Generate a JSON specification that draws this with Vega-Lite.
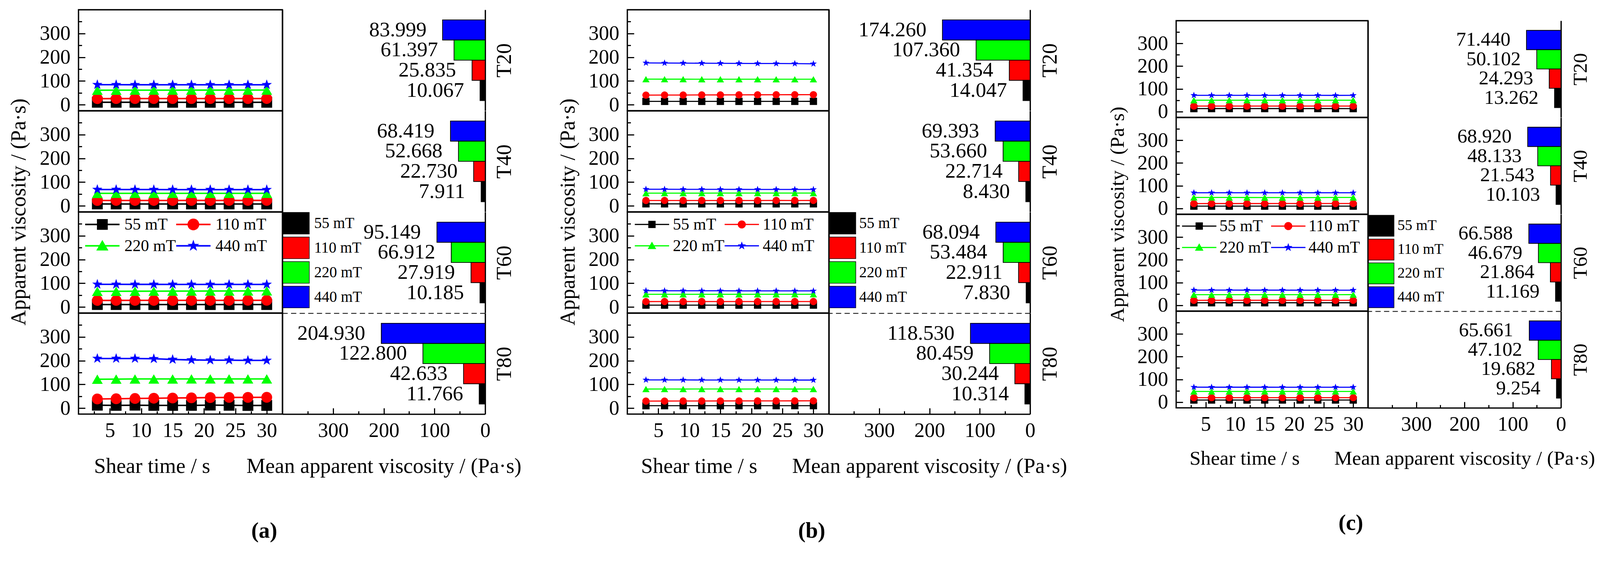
{
  "$schema": "https://vega.github.io/schema/vega-lite/v6.json",
  "description": "Apparent viscosity vs shear time and mean apparent viscosity, panels a-c",
  "background": "white",
  "padding": {"left": 18, "top": 23, "right": 0, "bottom": 0},
  "bounds": "flush",
  "spacing": 1405,
  "resolve": {"scale": {"color": "independent", "fill": "independent", "shape": "independent", "stroke": "independent"}, "legend": {"color": "independent", "fill": "independent", "shape": "independent", "stroke": "independent"}},
  "datasets": {
    "bars": [
      {"p": "a", "T": "T20", "f": "440 mT", "v": 83.999}, {"p": "a", "T": "T20", "f": "220 mT", "v": 61.397}, {"p": "a", "T": "T20", "f": "110 mT", "v": 25.835}, {"p": "a", "T": "T20", "f": "55 mT", "v": 10.067},
      {"p": "a", "T": "T40", "f": "440 mT", "v": 68.419}, {"p": "a", "T": "T40", "f": "220 mT", "v": 52.668}, {"p": "a", "T": "T40", "f": "110 mT", "v": 22.730}, {"p": "a", "T": "T40", "f": "55 mT", "v": 7.911},
      {"p": "a", "T": "T60", "f": "440 mT", "v": 95.149}, {"p": "a", "T": "T60", "f": "220 mT", "v": 66.912}, {"p": "a", "T": "T60", "f": "110 mT", "v": 27.919}, {"p": "a", "T": "T60", "f": "55 mT", "v": 10.185},
      {"p": "a", "T": "T80", "f": "440 mT", "v": 204.930}, {"p": "a", "T": "T80", "f": "220 mT", "v": 122.800}, {"p": "a", "T": "T80", "f": "110 mT", "v": 42.633}, {"p": "a", "T": "T80", "f": "55 mT", "v": 11.766},
      {"p": "b", "T": "T20", "f": "440 mT", "v": 174.260}, {"p": "b", "T": "T20", "f": "220 mT", "v": 107.360}, {"p": "b", "T": "T20", "f": "110 mT", "v": 41.354}, {"p": "b", "T": "T20", "f": "55 mT", "v": 14.047},
      {"p": "b", "T": "T40", "f": "440 mT", "v": 69.393}, {"p": "b", "T": "T40", "f": "220 mT", "v": 53.660}, {"p": "b", "T": "T40", "f": "110 mT", "v": 22.714}, {"p": "b", "T": "T40", "f": "55 mT", "v": 8.430},
      {"p": "b", "T": "T60", "f": "440 mT", "v": 68.094}, {"p": "b", "T": "T60", "f": "220 mT", "v": 53.484}, {"p": "b", "T": "T60", "f": "110 mT", "v": 22.911}, {"p": "b", "T": "T60", "f": "55 mT", "v": 7.830},
      {"p": "b", "T": "T80", "f": "440 mT", "v": 118.530}, {"p": "b", "T": "T80", "f": "220 mT", "v": 80.459}, {"p": "b", "T": "T80", "f": "110 mT", "v": 30.244}, {"p": "b", "T": "T80", "f": "55 mT", "v": 10.314},
      {"p": "c", "T": "T20", "f": "440 mT", "v": 71.440}, {"p": "c", "T": "T20", "f": "220 mT", "v": 50.102}, {"p": "c", "T": "T20", "f": "110 mT", "v": 24.293}, {"p": "c", "T": "T20", "f": "55 mT", "v": 13.262},
      {"p": "c", "T": "T40", "f": "440 mT", "v": 68.920}, {"p": "c", "T": "T40", "f": "220 mT", "v": 48.133}, {"p": "c", "T": "T40", "f": "110 mT", "v": 21.543}, {"p": "c", "T": "T40", "f": "55 mT", "v": 10.103},
      {"p": "c", "T": "T60", "f": "440 mT", "v": 66.588}, {"p": "c", "T": "T60", "f": "220 mT", "v": 46.679}, {"p": "c", "T": "T60", "f": "110 mT", "v": 21.864}, {"p": "c", "T": "T60", "f": "55 mT", "v": 11.169},
      {"p": "c", "T": "T80", "f": "440 mT", "v": 65.661}, {"p": "c", "T": "T80", "f": "220 mT", "v": 47.102}, {"p": "c", "T": "T80", "f": "110 mT", "v": 19.682}, {"p": "c", "T": "T80", "f": "55 mT", "v": 9.254}
    ],
    "lines": [
      {"p":"a","T":"T20","f":"55 mT","t":3,"v":10.2},{"p":"a","T":"T20","f":"55 mT","t":6,"v":10.1},{"p":"a","T":"T20","f":"55 mT","t":9,"v":10.1},{"p":"a","T":"T20","f":"55 mT","t":12,"v":10.0},{"p":"a","T":"T20","f":"55 mT","t":15,"v":10.1},{"p":"a","T":"T20","f":"55 mT","t":18,"v":10.0},{"p":"a","T":"T20","f":"55 mT","t":21,"v":10.0},{"p":"a","T":"T20","f":"55 mT","t":24,"v":10.1},{"p":"a","T":"T20","f":"55 mT","t":27,"v":10.0},{"p":"a","T":"T20","f":"55 mT","t":30,"v":10.1},
      {"p":"a","T":"T20","f":"110 mT","t":3,"v":25.6},{"p":"a","T":"T20","f":"110 mT","t":6,"v":25.7},{"p":"a","T":"T20","f":"110 mT","t":9,"v":25.8},{"p":"a","T":"T20","f":"110 mT","t":12,"v":25.8},{"p":"a","T":"T20","f":"110 mT","t":15,"v":25.9},{"p":"a","T":"T20","f":"110 mT","t":18,"v":25.8},{"p":"a","T":"T20","f":"110 mT","t":21,"v":25.9},{"p":"a","T":"T20","f":"110 mT","t":24,"v":25.9},{"p":"a","T":"T20","f":"110 mT","t":27,"v":25.9},{"p":"a","T":"T20","f":"110 mT","t":30,"v":26.0},
      {"p":"a","T":"T20","f":"220 mT","t":3,"v":61.0},{"p":"a","T":"T20","f":"220 mT","t":6,"v":61.2},{"p":"a","T":"T20","f":"220 mT","t":9,"v":61.3},{"p":"a","T":"T20","f":"220 mT","t":12,"v":61.4},{"p":"a","T":"T20","f":"220 mT","t":15,"v":61.4},{"p":"a","T":"T20","f":"220 mT","t":18,"v":61.5},{"p":"a","T":"T20","f":"220 mT","t":21,"v":61.5},{"p":"a","T":"T20","f":"220 mT","t":24,"v":61.5},{"p":"a","T":"T20","f":"220 mT","t":27,"v":61.6},{"p":"a","T":"T20","f":"220 mT","t":30,"v":61.6},
      {"p":"a","T":"T20","f":"440 mT","t":3,"v":84.3},{"p":"a","T":"T20","f":"440 mT","t":6,"v":84.2},{"p":"a","T":"T20","f":"440 mT","t":9,"v":84.1},{"p":"a","T":"T20","f":"440 mT","t":12,"v":84.0},{"p":"a","T":"T20","f":"440 mT","t":15,"v":84.0},{"p":"a","T":"T20","f":"440 mT","t":18,"v":83.9},{"p":"a","T":"T20","f":"440 mT","t":21,"v":83.9},{"p":"a","T":"T20","f":"440 mT","t":24,"v":83.8},{"p":"a","T":"T20","f":"440 mT","t":27,"v":83.8},{"p":"a","T":"T20","f":"440 mT","t":30,"v":84.0},
      {"p":"a","T":"T40","f":"55 mT","t":3,"v":8.0},{"p":"a","T":"T40","f":"55 mT","t":6,"v":7.9},{"p":"a","T":"T40","f":"55 mT","t":9,"v":7.9},{"p":"a","T":"T40","f":"55 mT","t":12,"v":7.9},{"p":"a","T":"T40","f":"55 mT","t":15,"v":7.9},{"p":"a","T":"T40","f":"55 mT","t":18,"v":7.9},{"p":"a","T":"T40","f":"55 mT","t":21,"v":7.9},{"p":"a","T":"T40","f":"55 mT","t":24,"v":7.9},{"p":"a","T":"T40","f":"55 mT","t":27,"v":7.9},{"p":"a","T":"T40","f":"55 mT","t":30,"v":7.9},
      {"p":"a","T":"T40","f":"110 mT","t":3,"v":22.6},{"p":"a","T":"T40","f":"110 mT","t":6,"v":22.7},{"p":"a","T":"T40","f":"110 mT","t":9,"v":22.7},{"p":"a","T":"T40","f":"110 mT","t":12,"v":22.7},{"p":"a","T":"T40","f":"110 mT","t":15,"v":22.7},{"p":"a","T":"T40","f":"110 mT","t":18,"v":22.8},{"p":"a","T":"T40","f":"110 mT","t":21,"v":22.7},{"p":"a","T":"T40","f":"110 mT","t":24,"v":22.8},{"p":"a","T":"T40","f":"110 mT","t":27,"v":22.8},{"p":"a","T":"T40","f":"110 mT","t":30,"v":22.8},
      {"p":"a","T":"T40","f":"220 mT","t":3,"v":52.5},{"p":"a","T":"T40","f":"220 mT","t":6,"v":52.6},{"p":"a","T":"T40","f":"220 mT","t":9,"v":52.6},{"p":"a","T":"T40","f":"220 mT","t":12,"v":52.7},{"p":"a","T":"T40","f":"220 mT","t":15,"v":52.7},{"p":"a","T":"T40","f":"220 mT","t":18,"v":52.7},{"p":"a","T":"T40","f":"220 mT","t":21,"v":52.7},{"p":"a","T":"T40","f":"220 mT","t":24,"v":52.7},{"p":"a","T":"T40","f":"220 mT","t":27,"v":52.7},{"p":"a","T":"T40","f":"220 mT","t":30,"v":52.8},
      {"p":"a","T":"T40","f":"440 mT","t":3,"v":68.8},{"p":"a","T":"T40","f":"440 mT","t":6,"v":68.7},{"p":"a","T":"T40","f":"440 mT","t":9,"v":68.6},{"p":"a","T":"T40","f":"440 mT","t":12,"v":68.5},{"p":"a","T":"T40","f":"440 mT","t":15,"v":68.4},{"p":"a","T":"T40","f":"440 mT","t":18,"v":68.3},{"p":"a","T":"T40","f":"440 mT","t":21,"v":68.3},{"p":"a","T":"T40","f":"440 mT","t":24,"v":68.2},{"p":"a","T":"T40","f":"440 mT","t":27,"v":68.2},{"p":"a","T":"T40","f":"440 mT","t":30,"v":68.2},
      {"p":"a","T":"T60","f":"55 mT","t":3,"v":10.3},{"p":"a","T":"T60","f":"55 mT","t":6,"v":10.2},{"p":"a","T":"T60","f":"55 mT","t":9,"v":10.2},{"p":"a","T":"T60","f":"55 mT","t":12,"v":10.1},{"p":"a","T":"T60","f":"55 mT","t":15,"v":10.2},{"p":"a","T":"T60","f":"55 mT","t":18,"v":10.2},{"p":"a","T":"T60","f":"55 mT","t":21,"v":10.1},{"p":"a","T":"T60","f":"55 mT","t":24,"v":10.2},{"p":"a","T":"T60","f":"55 mT","t":27,"v":10.2},{"p":"a","T":"T60","f":"55 mT","t":30,"v":10.2},
      {"p":"a","T":"T60","f":"110 mT","t":3,"v":27.6},{"p":"a","T":"T60","f":"110 mT","t":6,"v":27.7},{"p":"a","T":"T60","f":"110 mT","t":9,"v":27.8},{"p":"a","T":"T60","f":"110 mT","t":12,"v":27.9},{"p":"a","T":"T60","f":"110 mT","t":15,"v":27.9},{"p":"a","T":"T60","f":"110 mT","t":18,"v":28.0},{"p":"a","T":"T60","f":"110 mT","t":21,"v":28.0},{"p":"a","T":"T60","f":"110 mT","t":24,"v":28.0},{"p":"a","T":"T60","f":"110 mT","t":27,"v":28.1},{"p":"a","T":"T60","f":"110 mT","t":30,"v":28.2},
      {"p":"a","T":"T60","f":"220 mT","t":3,"v":65.8},{"p":"a","T":"T60","f":"220 mT","t":6,"v":66.1},{"p":"a","T":"T60","f":"220 mT","t":9,"v":66.4},{"p":"a","T":"T60","f":"220 mT","t":12,"v":66.6},{"p":"a","T":"T60","f":"220 mT","t":15,"v":66.8},{"p":"a","T":"T60","f":"220 mT","t":18,"v":67.0},{"p":"a","T":"T60","f":"220 mT","t":21,"v":67.2},{"p":"a","T":"T60","f":"220 mT","t":24,"v":67.4},{"p":"a","T":"T60","f":"220 mT","t":27,"v":67.6},{"p":"a","T":"T60","f":"220 mT","t":30,"v":68.2},
      {"p":"a","T":"T60","f":"440 mT","t":3,"v":95.4},{"p":"a","T":"T60","f":"440 mT","t":6,"v":95.3},{"p":"a","T":"T60","f":"440 mT","t":9,"v":95.2},{"p":"a","T":"T60","f":"440 mT","t":12,"v":95.2},{"p":"a","T":"T60","f":"440 mT","t":15,"v":95.1},{"p":"a","T":"T60","f":"440 mT","t":18,"v":95.1},{"p":"a","T":"T60","f":"440 mT","t":21,"v":95.0},{"p":"a","T":"T60","f":"440 mT","t":24,"v":95.0},{"p":"a","T":"T60","f":"440 mT","t":27,"v":95.1},{"p":"a","T":"T60","f":"440 mT","t":30,"v":95.1},
      {"p":"a","T":"T80","f":"55 mT","t":3,"v":12.3},{"p":"a","T":"T80","f":"55 mT","t":6,"v":11.6},{"p":"a","T":"T80","f":"55 mT","t":9,"v":12.4},{"p":"a","T":"T80","f":"55 mT","t":12,"v":11.5},{"p":"a","T":"T80","f":"55 mT","t":15,"v":11.4},{"p":"a","T":"T80","f":"55 mT","t":18,"v":11.6},{"p":"a","T":"T80","f":"55 mT","t":21,"v":12.6},{"p":"a","T":"T80","f":"55 mT","t":24,"v":11.9},{"p":"a","T":"T80","f":"55 mT","t":27,"v":11.1},{"p":"a","T":"T80","f":"55 mT","t":30,"v":11.3},
      {"p":"a","T":"T80","f":"110 mT","t":3,"v":38.6},{"p":"a","T":"T80","f":"110 mT","t":6,"v":39.4},{"p":"a","T":"T80","f":"110 mT","t":9,"v":40.6},{"p":"a","T":"T80","f":"110 mT","t":12,"v":41.6},{"p":"a","T":"T80","f":"110 mT","t":15,"v":42.6},{"p":"a","T":"T80","f":"110 mT","t":18,"v":43.4},{"p":"a","T":"T80","f":"110 mT","t":21,"v":44.4},{"p":"a","T":"T80","f":"110 mT","t":24,"v":45.0},{"p":"a","T":"T80","f":"110 mT","t":27,"v":45.2},{"p":"a","T":"T80","f":"110 mT","t":30,"v":45.5},
      {"p":"a","T":"T80","f":"220 mT","t":3,"v":121.8},{"p":"a","T":"T80","f":"220 mT","t":6,"v":122.3},{"p":"a","T":"T80","f":"220 mT","t":9,"v":122.8},{"p":"a","T":"T80","f":"220 mT","t":12,"v":122.9},{"p":"a","T":"T80","f":"220 mT","t":15,"v":122.9},{"p":"a","T":"T80","f":"220 mT","t":18,"v":123.0},{"p":"a","T":"T80","f":"220 mT","t":21,"v":123.0},{"p":"a","T":"T80","f":"220 mT","t":24,"v":123.1},{"p":"a","T":"T80","f":"220 mT","t":27,"v":123.1},{"p":"a","T":"T80","f":"220 mT","t":30,"v":123.1},
      {"p":"a","T":"T80","f":"440 mT","t":3,"v":209},{"p":"a","T":"T80","f":"440 mT","t":6,"v":209},{"p":"a","T":"T80","f":"440 mT","t":9,"v":209},{"p":"a","T":"T80","f":"440 mT","t":12,"v":208},{"p":"a","T":"T80","f":"440 mT","t":15,"v":205},{"p":"a","T":"T80","f":"440 mT","t":18,"v":203},{"p":"a","T":"T80","f":"440 mT","t":21,"v":202},{"p":"a","T":"T80","f":"440 mT","t":24,"v":202},{"p":"a","T":"T80","f":"440 mT","t":27,"v":201},{"p":"a","T":"T80","f":"440 mT","t":30,"v":201},
      {"p":"b","T":"T20","f":"55 mT","t":3,"v":13.9},{"p":"b","T":"T20","f":"55 mT","t":6,"v":14.0},{"p":"b","T":"T20","f":"55 mT","t":9,"v":14.0},{"p":"b","T":"T20","f":"55 mT","t":12,"v":14.0},{"p":"b","T":"T20","f":"55 mT","t":15,"v":14.1},{"p":"b","T":"T20","f":"55 mT","t":18,"v":14.0},{"p":"b","T":"T20","f":"55 mT","t":21,"v":14.1},{"p":"b","T":"T20","f":"55 mT","t":24,"v":14.1},{"p":"b","T":"T20","f":"55 mT","t":27,"v":14.1},{"p":"b","T":"T20","f":"55 mT","t":30,"v":14.2},
      {"p":"b","T":"T20","f":"110 mT","t":3,"v":40.3},{"p":"b","T":"T20","f":"110 mT","t":6,"v":40.6},{"p":"b","T":"T20","f":"110 mT","t":9,"v":40.8},{"p":"b","T":"T20","f":"110 mT","t":12,"v":41.1},{"p":"b","T":"T20","f":"110 mT","t":15,"v":41.3},{"p":"b","T":"T20","f":"110 mT","t":18,"v":41.5},{"p":"b","T":"T20","f":"110 mT","t":21,"v":41.7},{"p":"b","T":"T20","f":"110 mT","t":24,"v":41.9},{"p":"b","T":"T20","f":"110 mT","t":27,"v":42.1},{"p":"b","T":"T20","f":"110 mT","t":30,"v":42.2},
      {"p":"b","T":"T20","f":"220 mT","t":3,"v":107.6},{"p":"b","T":"T20","f":"220 mT","t":6,"v":107.5},{"p":"b","T":"T20","f":"220 mT","t":9,"v":107.5},{"p":"b","T":"T20","f":"220 mT","t":12,"v":107.4},{"p":"b","T":"T20","f":"220 mT","t":15,"v":107.4},{"p":"b","T":"T20","f":"220 mT","t":18,"v":107.3},{"p":"b","T":"T20","f":"220 mT","t":21,"v":107.3},{"p":"b","T":"T20","f":"220 mT","t":24,"v":107.2},{"p":"b","T":"T20","f":"220 mT","t":27,"v":107.2},{"p":"b","T":"T20","f":"220 mT","t":30,"v":107.2},
      {"p":"b","T":"T20","f":"440 mT","t":3,"v":176.0},{"p":"b","T":"T20","f":"440 mT","t":6,"v":175.6},{"p":"b","T":"T20","f":"440 mT","t":9,"v":175.2},{"p":"b","T":"T20","f":"440 mT","t":12,"v":174.8},{"p":"b","T":"T20","f":"440 mT","t":15,"v":174.4},{"p":"b","T":"T20","f":"440 mT","t":18,"v":174.0},{"p":"b","T":"T20","f":"440 mT","t":21,"v":173.7},{"p":"b","T":"T20","f":"440 mT","t":24,"v":173.4},{"p":"b","T":"T20","f":"440 mT","t":27,"v":173.2},{"p":"b","T":"T20","f":"440 mT","t":30,"v":172.3},
      {"p":"b","T":"T40","f":"55 mT","t":3,"v":8.5},{"p":"b","T":"T40","f":"55 mT","t":6,"v":8.4},{"p":"b","T":"T40","f":"55 mT","t":9,"v":8.4},{"p":"b","T":"T40","f":"55 mT","t":12,"v":8.4},{"p":"b","T":"T40","f":"55 mT","t":15,"v":8.4},{"p":"b","T":"T40","f":"55 mT","t":18,"v":8.4},{"p":"b","T":"T40","f":"55 mT","t":21,"v":8.5},{"p":"b","T":"T40","f":"55 mT","t":24,"v":8.4},{"p":"b","T":"T40","f":"55 mT","t":27,"v":8.4},{"p":"b","T":"T40","f":"55 mT","t":30,"v":8.5},
      {"p":"b","T":"T40","f":"110 mT","t":3,"v":22.6},{"p":"b","T":"T40","f":"110 mT","t":6,"v":22.7},{"p":"b","T":"T40","f":"110 mT","t":9,"v":22.7},{"p":"b","T":"T40","f":"110 mT","t":12,"v":22.7},{"p":"b","T":"T40","f":"110 mT","t":15,"v":22.7},{"p":"b","T":"T40","f":"110 mT","t":18,"v":22.7},{"p":"b","T":"T40","f":"110 mT","t":21,"v":22.7},{"p":"b","T":"T40","f":"110 mT","t":24,"v":22.8},{"p":"b","T":"T40","f":"110 mT","t":27,"v":22.7},{"p":"b","T":"T40","f":"110 mT","t":30,"v":22.8},
      {"p":"b","T":"T40","f":"220 mT","t":3,"v":53.5},{"p":"b","T":"T40","f":"220 mT","t":6,"v":53.6},{"p":"b","T":"T40","f":"220 mT","t":9,"v":53.6},{"p":"b","T":"T40","f":"220 mT","t":12,"v":53.6},{"p":"b","T":"T40","f":"220 mT","t":15,"v":53.7},{"p":"b","T":"T40","f":"220 mT","t":18,"v":53.7},{"p":"b","T":"T40","f":"220 mT","t":21,"v":53.7},{"p":"b","T":"T40","f":"220 mT","t":24,"v":53.7},{"p":"b","T":"T40","f":"220 mT","t":27,"v":53.7},{"p":"b","T":"T40","f":"220 mT","t":30,"v":53.8},
      {"p":"b","T":"T40","f":"440 mT","t":3,"v":69.9},{"p":"b","T":"T40","f":"440 mT","t":6,"v":69.8},{"p":"b","T":"T40","f":"440 mT","t":9,"v":69.6},{"p":"b","T":"T40","f":"440 mT","t":12,"v":69.5},{"p":"b","T":"T40","f":"440 mT","t":15,"v":69.4},{"p":"b","T":"T40","f":"440 mT","t":18,"v":69.3},{"p":"b","T":"T40","f":"440 mT","t":21,"v":69.2},{"p":"b","T":"T40","f":"440 mT","t":24,"v":69.1},{"p":"b","T":"T40","f":"440 mT","t":27,"v":69.1},{"p":"b","T":"T40","f":"440 mT","t":30,"v":69.0},
      {"p":"b","T":"T60","f":"55 mT","t":3,"v":7.9},{"p":"b","T":"T60","f":"55 mT","t":6,"v":7.8},{"p":"b","T":"T60","f":"55 mT","t":9,"v":7.8},{"p":"b","T":"T60","f":"55 mT","t":12,"v":7.8},{"p":"b","T":"T60","f":"55 mT","t":15,"v":7.8},{"p":"b","T":"T60","f":"55 mT","t":18,"v":7.8},{"p":"b","T":"T60","f":"55 mT","t":21,"v":7.9},{"p":"b","T":"T60","f":"55 mT","t":24,"v":7.8},{"p":"b","T":"T60","f":"55 mT","t":27,"v":7.8},{"p":"b","T":"T60","f":"55 mT","t":30,"v":7.9},
      {"p":"b","T":"T60","f":"110 mT","t":3,"v":22.8},{"p":"b","T":"T60","f":"110 mT","t":6,"v":22.9},{"p":"b","T":"T60","f":"110 mT","t":9,"v":22.9},{"p":"b","T":"T60","f":"110 mT","t":12,"v":22.9},{"p":"b","T":"T60","f":"110 mT","t":15,"v":22.9},{"p":"b","T":"T60","f":"110 mT","t":18,"v":22.9},{"p":"b","T":"T60","f":"110 mT","t":21,"v":22.9},{"p":"b","T":"T60","f":"110 mT","t":24,"v":22.9},{"p":"b","T":"T60","f":"110 mT","t":27,"v":22.9},{"p":"b","T":"T60","f":"110 mT","t":30,"v":23.0},
      {"p":"b","T":"T60","f":"220 mT","t":3,"v":53.3},{"p":"b","T":"T60","f":"220 mT","t":6,"v":53.4},{"p":"b","T":"T60","f":"220 mT","t":9,"v":53.4},{"p":"b","T":"T60","f":"220 mT","t":12,"v":53.5},{"p":"b","T":"T60","f":"220 mT","t":15,"v":53.5},{"p":"b","T":"T60","f":"220 mT","t":18,"v":53.5},{"p":"b","T":"T60","f":"220 mT","t":21,"v":53.5},{"p":"b","T":"T60","f":"220 mT","t":24,"v":53.5},{"p":"b","T":"T60","f":"220 mT","t":27,"v":53.6},{"p":"b","T":"T60","f":"220 mT","t":30,"v":53.6},
      {"p":"b","T":"T60","f":"440 mT","t":3,"v":68.6},{"p":"b","T":"T60","f":"440 mT","t":6,"v":68.4},{"p":"b","T":"T60","f":"440 mT","t":9,"v":68.3},{"p":"b","T":"T60","f":"440 mT","t":12,"v":68.2},{"p":"b","T":"T60","f":"440 mT","t":15,"v":68.1},{"p":"b","T":"T60","f":"440 mT","t":18,"v":68.0},{"p":"b","T":"T60","f":"440 mT","t":21,"v":67.9},{"p":"b","T":"T60","f":"440 mT","t":24,"v":67.9},{"p":"b","T":"T60","f":"440 mT","t":27,"v":67.8},{"p":"b","T":"T60","f":"440 mT","t":30,"v":67.7},
      {"p":"b","T":"T80","f":"55 mT","t":3,"v":10.2},{"p":"b","T":"T80","f":"55 mT","t":6,"v":10.3},{"p":"b","T":"T80","f":"55 mT","t":9,"v":10.3},{"p":"b","T":"T80","f":"55 mT","t":12,"v":10.3},{"p":"b","T":"T80","f":"55 mT","t":15,"v":10.3},{"p":"b","T":"T80","f":"55 mT","t":18,"v":10.3},{"p":"b","T":"T80","f":"55 mT","t":21,"v":10.3},{"p":"b","T":"T80","f":"55 mT","t":24,"v":10.3},{"p":"b","T":"T80","f":"55 mT","t":27,"v":10.4},{"p":"b","T":"T80","f":"55 mT","t":30,"v":10.4},
      {"p":"b","T":"T80","f":"110 mT","t":3,"v":29.6},{"p":"b","T":"T80","f":"110 mT","t":6,"v":29.8},{"p":"b","T":"T80","f":"110 mT","t":9,"v":30.0},{"p":"b","T":"T80","f":"110 mT","t":12,"v":30.1},{"p":"b","T":"T80","f":"110 mT","t":15,"v":30.2},{"p":"b","T":"T80","f":"110 mT","t":18,"v":30.3},{"p":"b","T":"T80","f":"110 mT","t":21,"v":30.4},{"p":"b","T":"T80","f":"110 mT","t":24,"v":30.5},{"p":"b","T":"T80","f":"110 mT","t":27,"v":30.6},{"p":"b","T":"T80","f":"110 mT","t":30,"v":30.7},
      {"p":"b","T":"T80","f":"220 mT","t":3,"v":80.4},{"p":"b","T":"T80","f":"220 mT","t":6,"v":80.5},{"p":"b","T":"T80","f":"220 mT","t":9,"v":80.4},{"p":"b","T":"T80","f":"220 mT","t":12,"v":80.5},{"p":"b","T":"T80","f":"220 mT","t":15,"v":80.5},{"p":"b","T":"T80","f":"220 mT","t":18,"v":80.4},{"p":"b","T":"T80","f":"220 mT","t":21,"v":80.5},{"p":"b","T":"T80","f":"220 mT","t":24,"v":80.5},{"p":"b","T":"T80","f":"220 mT","t":27,"v":80.4},{"p":"b","T":"T80","f":"220 mT","t":30,"v":80.5},
      {"p":"b","T":"T80","f":"440 mT","t":3,"v":119.0},{"p":"b","T":"T80","f":"440 mT","t":6,"v":118.9},{"p":"b","T":"T80","f":"440 mT","t":9,"v":118.8},{"p":"b","T":"T80","f":"440 mT","t":12,"v":118.6},{"p":"b","T":"T80","f":"440 mT","t":15,"v":118.5},{"p":"b","T":"T80","f":"440 mT","t":18,"v":118.4},{"p":"b","T":"T80","f":"440 mT","t":21,"v":118.4},{"p":"b","T":"T80","f":"440 mT","t":24,"v":118.3},{"p":"b","T":"T80","f":"440 mT","t":27,"v":118.2},{"p":"b","T":"T80","f":"440 mT","t":30,"v":118.2},
      {"p":"c","T":"T20","f":"55 mT","t":3,"v":13.2},{"p":"c","T":"T20","f":"55 mT","t":6,"v":13.3},{"p":"c","T":"T20","f":"55 mT","t":9,"v":13.3},{"p":"c","T":"T20","f":"55 mT","t":12,"v":13.2},{"p":"c","T":"T20","f":"55 mT","t":15,"v":13.3},{"p":"c","T":"T20","f":"55 mT","t":18,"v":13.3},{"p":"c","T":"T20","f":"55 mT","t":21,"v":13.2},{"p":"c","T":"T20","f":"55 mT","t":24,"v":13.3},{"p":"c","T":"T20","f":"55 mT","t":27,"v":13.3},{"p":"c","T":"T20","f":"55 mT","t":30,"v":13.2},
      {"p":"c","T":"T20","f":"110 mT","t":3,"v":24.2},{"p":"c","T":"T20","f":"110 mT","t":6,"v":24.3},{"p":"c","T":"T20","f":"110 mT","t":9,"v":24.3},{"p":"c","T":"T20","f":"110 mT","t":12,"v":24.3},{"p":"c","T":"T20","f":"110 mT","t":15,"v":24.3},{"p":"c","T":"T20","f":"110 mT","t":18,"v":24.3},{"p":"c","T":"T20","f":"110 mT","t":21,"v":24.3},{"p":"c","T":"T20","f":"110 mT","t":24,"v":24.3},{"p":"c","T":"T20","f":"110 mT","t":27,"v":24.3},{"p":"c","T":"T20","f":"110 mT","t":30,"v":24.3},
      {"p":"c","T":"T20","f":"220 mT","t":3,"v":50.0},{"p":"c","T":"T20","f":"220 mT","t":6,"v":50.1},{"p":"c","T":"T20","f":"220 mT","t":9,"v":50.1},{"p":"c","T":"T20","f":"220 mT","t":12,"v":50.1},{"p":"c","T":"T20","f":"220 mT","t":15,"v":50.1},{"p":"c","T":"T20","f":"220 mT","t":18,"v":50.1},{"p":"c","T":"T20","f":"220 mT","t":21,"v":50.1},{"p":"c","T":"T20","f":"220 mT","t":24,"v":50.1},{"p":"c","T":"T20","f":"220 mT","t":27,"v":50.1},{"p":"c","T":"T20","f":"220 mT","t":30,"v":50.2},
      {"p":"c","T":"T20","f":"440 mT","t":3,"v":71.6},{"p":"c","T":"T20","f":"440 mT","t":6,"v":71.5},{"p":"c","T":"T20","f":"440 mT","t":9,"v":71.5},{"p":"c","T":"T20","f":"440 mT","t":12,"v":71.5},{"p":"c","T":"T20","f":"440 mT","t":15,"v":71.4},{"p":"c","T":"T20","f":"440 mT","t":18,"v":71.4},{"p":"c","T":"T20","f":"440 mT","t":21,"v":71.4},{"p":"c","T":"T20","f":"440 mT","t":24,"v":71.4},{"p":"c","T":"T20","f":"440 mT","t":27,"v":71.3},{"p":"c","T":"T20","f":"440 mT","t":30,"v":71.4},
      {"p":"c","T":"T40","f":"55 mT","t":3,"v":10.1},{"p":"c","T":"T40","f":"55 mT","t":6,"v":10.1},{"p":"c","T":"T40","f":"55 mT","t":9,"v":10.1},{"p":"c","T":"T40","f":"55 mT","t":12,"v":10.1},{"p":"c","T":"T40","f":"55 mT","t":15,"v":10.1},{"p":"c","T":"T40","f":"55 mT","t":18,"v":10.1},{"p":"c","T":"T40","f":"55 mT","t":21,"v":10.1},{"p":"c","T":"T40","f":"55 mT","t":24,"v":10.1},{"p":"c","T":"T40","f":"55 mT","t":27,"v":10.1},{"p":"c","T":"T40","f":"55 mT","t":30,"v":10.1},
      {"p":"c","T":"T40","f":"110 mT","t":3,"v":21.4},{"p":"c","T":"T40","f":"110 mT","t":6,"v":21.5},{"p":"c","T":"T40","f":"110 mT","t":9,"v":21.5},{"p":"c","T":"T40","f":"110 mT","t":12,"v":21.5},{"p":"c","T":"T40","f":"110 mT","t":15,"v":21.5},{"p":"c","T":"T40","f":"110 mT","t":18,"v":21.6},{"p":"c","T":"T40","f":"110 mT","t":21,"v":21.5},{"p":"c","T":"T40","f":"110 mT","t":24,"v":21.6},{"p":"c","T":"T40","f":"110 mT","t":27,"v":21.6},{"p":"c","T":"T40","f":"110 mT","t":30,"v":21.6},
      {"p":"c","T":"T40","f":"220 mT","t":3,"v":48.5},{"p":"c","T":"T40","f":"220 mT","t":6,"v":48.4},{"p":"c","T":"T40","f":"220 mT","t":9,"v":48.3},{"p":"c","T":"T40","f":"220 mT","t":12,"v":48.1},{"p":"c","T":"T40","f":"220 mT","t":15,"v":48.0},{"p":"c","T":"T40","f":"220 mT","t":18,"v":47.9},{"p":"c","T":"T40","f":"220 mT","t":21,"v":47.6},{"p":"c","T":"T40","f":"220 mT","t":24,"v":48.0},{"p":"c","T":"T40","f":"220 mT","t":27,"v":48.2},{"p":"c","T":"T40","f":"220 mT","t":30,"v":48.3},
      {"p":"c","T":"T40","f":"440 mT","t":3,"v":69.1},{"p":"c","T":"T40","f":"440 mT","t":6,"v":69.0},{"p":"c","T":"T40","f":"440 mT","t":9,"v":69.0},{"p":"c","T":"T40","f":"440 mT","t":12,"v":68.9},{"p":"c","T":"T40","f":"440 mT","t":15,"v":68.9},{"p":"c","T":"T40","f":"440 mT","t":18,"v":68.9},{"p":"c","T":"T40","f":"440 mT","t":21,"v":68.8},{"p":"c","T":"T40","f":"440 mT","t":24,"v":68.8},{"p":"c","T":"T40","f":"440 mT","t":27,"v":68.8},{"p":"c","T":"T40","f":"440 mT","t":30,"v":68.8},
      {"p":"c","T":"T60","f":"55 mT","t":3,"v":11.2},{"p":"c","T":"T60","f":"55 mT","t":6,"v":11.2},{"p":"c","T":"T60","f":"55 mT","t":9,"v":11.2},{"p":"c","T":"T60","f":"55 mT","t":12,"v":11.2},{"p":"c","T":"T60","f":"55 mT","t":15,"v":11.2},{"p":"c","T":"T60","f":"55 mT","t":18,"v":11.2},{"p":"c","T":"T60","f":"55 mT","t":21,"v":11.2},{"p":"c","T":"T60","f":"55 mT","t":24,"v":11.2},{"p":"c","T":"T60","f":"55 mT","t":27,"v":11.2},{"p":"c","T":"T60","f":"55 mT","t":30,"v":11.2},
      {"p":"c","T":"T60","f":"110 mT","t":3,"v":21.8},{"p":"c","T":"T60","f":"110 mT","t":6,"v":21.9},{"p":"c","T":"T60","f":"110 mT","t":9,"v":21.9},{"p":"c","T":"T60","f":"110 mT","t":12,"v":21.9},{"p":"c","T":"T60","f":"110 mT","t":15,"v":21.9},{"p":"c","T":"T60","f":"110 mT","t":18,"v":21.9},{"p":"c","T":"T60","f":"110 mT","t":21,"v":21.9},{"p":"c","T":"T60","f":"110 mT","t":24,"v":21.9},{"p":"c","T":"T60","f":"110 mT","t":27,"v":21.8},{"p":"c","T":"T60","f":"110 mT","t":30,"v":21.9},
      {"p":"c","T":"T60","f":"220 mT","t":3,"v":46.6},{"p":"c","T":"T60","f":"220 mT","t":6,"v":46.6},{"p":"c","T":"T60","f":"220 mT","t":9,"v":46.7},{"p":"c","T":"T60","f":"220 mT","t":12,"v":46.7},{"p":"c","T":"T60","f":"220 mT","t":15,"v":46.7},{"p":"c","T":"T60","f":"220 mT","t":18,"v":46.7},{"p":"c","T":"T60","f":"220 mT","t":21,"v":46.7},{"p":"c","T":"T60","f":"220 mT","t":24,"v":46.7},{"p":"c","T":"T60","f":"220 mT","t":27,"v":46.7},{"p":"c","T":"T60","f":"220 mT","t":30,"v":46.8},
      {"p":"c","T":"T60","f":"440 mT","t":3,"v":66.8},{"p":"c","T":"T60","f":"440 mT","t":6,"v":66.7},{"p":"c","T":"T60","f":"440 mT","t":9,"v":66.7},{"p":"c","T":"T60","f":"440 mT","t":12,"v":66.6},{"p":"c","T":"T60","f":"440 mT","t":15,"v":66.6},{"p":"c","T":"T60","f":"440 mT","t":18,"v":66.6},{"p":"c","T":"T60","f":"440 mT","t":21,"v":66.5},{"p":"c","T":"T60","f":"440 mT","t":24,"v":66.5},{"p":"c","T":"T60","f":"440 mT","t":27,"v":66.5},{"p":"c","T":"T60","f":"440 mT","t":30,"v":66.5},
      {"p":"c","T":"T80","f":"55 mT","t":3,"v":9.2},{"p":"c","T":"T80","f":"55 mT","t":6,"v":9.3},{"p":"c","T":"T80","f":"55 mT","t":9,"v":9.3},{"p":"c","T":"T80","f":"55 mT","t":12,"v":9.2},{"p":"c","T":"T80","f":"55 mT","t":15,"v":9.3},{"p":"c","T":"T80","f":"55 mT","t":18,"v":9.3},{"p":"c","T":"T80","f":"55 mT","t":21,"v":9.2},{"p":"c","T":"T80","f":"55 mT","t":24,"v":9.3},{"p":"c","T":"T80","f":"55 mT","t":27,"v":9.3},{"p":"c","T":"T80","f":"55 mT","t":30,"v":9.2},
      {"p":"c","T":"T80","f":"110 mT","t":3,"v":19.6},{"p":"c","T":"T80","f":"110 mT","t":6,"v":19.7},{"p":"c","T":"T80","f":"110 mT","t":9,"v":19.7},{"p":"c","T":"T80","f":"110 mT","t":12,"v":19.7},{"p":"c","T":"T80","f":"110 mT","t":15,"v":19.7},{"p":"c","T":"T80","f":"110 mT","t":18,"v":19.7},{"p":"c","T":"T80","f":"110 mT","t":21,"v":19.7},{"p":"c","T":"T80","f":"110 mT","t":24,"v":19.7},{"p":"c","T":"T80","f":"110 mT","t":27,"v":19.7},{"p":"c","T":"T80","f":"110 mT","t":30,"v":19.7},
      {"p":"c","T":"T80","f":"220 mT","t":3,"v":47.0},{"p":"c","T":"T80","f":"220 mT","t":6,"v":47.1},{"p":"c","T":"T80","f":"220 mT","t":9,"v":47.1},{"p":"c","T":"T80","f":"220 mT","t":12,"v":47.1},{"p":"c","T":"T80","f":"220 mT","t":15,"v":47.1},{"p":"c","T":"T80","f":"220 mT","t":18,"v":47.1},{"p":"c","T":"T80","f":"220 mT","t":21,"v":47.1},{"p":"c","T":"T80","f":"220 mT","t":24,"v":47.1},{"p":"c","T":"T80","f":"220 mT","t":27,"v":47.1},{"p":"c","T":"T80","f":"220 mT","t":30,"v":47.2},
      {"p":"c","T":"T80","f":"440 mT","t":3,"v":65.8},{"p":"c","T":"T80","f":"440 mT","t":6,"v":65.7},{"p":"c","T":"T80","f":"440 mT","t":9,"v":65.7},{"p":"c","T":"T80","f":"440 mT","t":12,"v":65.7},{"p":"c","T":"T80","f":"440 mT","t":15,"v":65.7},{"p":"c","T":"T80","f":"440 mT","t":18,"v":65.6},{"p":"c","T":"T80","f":"440 mT","t":21,"v":65.6},{"p":"c","T":"T80","f":"440 mT","t":24,"v":65.6},{"p":"c","T":"T80","f":"440 mT","t":27,"v":65.6},{"p":"c","T":"T80","f":"440 mT","t":30,"v":65.6}
    ]
  },
  "hconcat": [
    {
      "columns": 2, "spacing": 0, "bounds": "flush",
      "resolve": {"scale": {"color": "independent", "fill": "independent", "shape": "independent", "stroke": "independent"}, "legend": {"color": "independent", "fill": "independent", "shape": "independent", "stroke": "independent"}},
      "title": {"text": "(a)", "orient": "bottom", "anchor": "middle", "offset": 110, "fontSize": 57, "fontWeight": "bold"},
      "concat": [
        {"width": 522, "height": 258.3, "data": {"name": "lines"}, "transform": [{"filter": "datum.p=='a'&&datum.T=='T20'"}],
         "encoding": {
           "x": {"field": "t", "type": "quantitative", "scale": {"domain": [0, 32.5], "nice": false, "zero": false}, "axis": null},
           "y": {"field": "v", "type": "quantitative", "scale": {"domain": [-25, 400], "nice": false, "zero": false}, "axis": {"values": [0, 50, 100, 150, 200, 250, 300, 350], "labelExpr": "datum.value%100==0?datum.label:''", "tickSize": {"condition": {"test": "datum.value%100==0", "value": -17}, "value": -8.6}, "labelPadding": 38, "domain": false, "title": null}}},
         "layer": [
           {"mark": {"type": "line", "strokeWidth": 3.8}, "encoding": {"stroke": {"field": "f", "type": "nominal", "scale": {"domain": ["440 mT", "220 mT", "110 mT", "55 mT"], "range": ["#0000ff", "#00ff00", "#ff0000", "#000000"]}, "legend": null}}},
           {"mark": {"type": "point", "filled": true, "size": 766, "opacity": 1}, "encoding": {
             "color": {"field": "f", "type": "nominal", "scale": {"domain": ["55 mT", "110 mT", "220 mT", "440 mT"], "range": ["#000000", "#ff0000", "#00ff00", "#0000ff"]}, "legend": null},
             "shape": {"field": "f", "type": "nominal", "scale": {"domain": ["440 mT", "220 mT", "110 mT", "55 mT"], "range": ["M0,-1L0.235,-0.324L0.951,-0.309L0.38,0.124L0.588,0.809L0,0.4L-0.588,0.809L-0.38,0.124L-0.951,-0.309L-0.235,-0.324Z", "triangle-up", "circle", "square"]}, "legend": null}}}
         ]},
        {"width": 519, "height": 258.3, "view": {"stroke": null}, "data": {"name": "bars"}, "transform": [{"filter": "datum.p=='a'&&datum.T=='T20'"}],
         "layer": [
           {"mark": {"type": "bar", "stroke": "black", "strokeWidth": 1.9},
            "encoding": {
              "y": {"field": "f", "type": "nominal", "sort": ["440 mT", "220 mT", "110 mT", "55 mT"], "scale": {"paddingInner": 0, "paddingOuter": 0.5}, "axis": {"orient": "left", "labels": false, "ticks": false, "title": null}},
              "x": {"field": "v", "type": "quantitative", "scale": {"domain": [0, 400], "reverse": true, "nice": false, "zero": false}, "axis": {"orient": "top", "labels": false, "ticks": false, "title": null}},
              "fill": {"field": "f", "type": "nominal", "scale": {"domain": ["55 mT", "110 mT", "220 mT", "440 mT"], "range": ["#000000", "#ff0000", "#00ff00", "#0000ff"]}, "legend": null}}},
           {"mark": {"type": "text", "align": "right", "baseline": "middle", "dx": -41, "fontSize": 53.5, "color": "black"},
            "encoding": {
              "y": {"field": "f", "type": "nominal", "sort": ["440 mT", "220 mT", "110 mT", "55 mT"], "axis": {"orient": "right", "labels": false, "ticks": false, "title": "T20", "titleAngle": 270, "titleX": 49.7, "titleY": 129.2, "titleAlign": "center", "titleBaseline": "middle"}},
              "x": {"field": "v", "type": "quantitative", "axis": null},
              "text": {"field": "v", "type": "quantitative", "format": ".3f"}}}
         ]},
        {"width": 522, "height": 258.3, "data": {"name": "lines"}, "transform": [{"filter": "datum.p=='a'&&datum.T=='T40'"}],
         "encoding": {
           "x": {"field": "t", "type": "quantitative", "scale": {"domain": [0, 32.5], "nice": false, "zero": false}, "axis": null},
           "y": {"field": "v", "type": "quantitative", "scale": {"domain": [-25, 400], "nice": false, "zero": false}, "axis": {"values": [0, 50, 100, 150, 200, 250, 300, 350], "labelExpr": "datum.value%100==0?datum.label:''", "tickSize": {"condition": {"test": "datum.value%100==0", "value": -17}, "value": -8.6}, "labelPadding": 38, "domain": false, "title": "Apparent viscosity / (Pa·s)", "titleX": -152.8, "titleY": 258.3, "titleAngle": 270, "titleAlign": "center", "titleBaseline": "middle"}}},
         "layer": [
           {"mark": {"type": "line", "strokeWidth": 3.8}, "encoding": {"stroke": {"field": "f", "type": "nominal", "scale": {"domain": ["440 mT", "220 mT", "110 mT", "55 mT"], "range": ["#0000ff", "#00ff00", "#ff0000", "#000000"]}, "legend": null}}},
           {"mark": {"type": "point", "filled": true, "size": 766, "opacity": 1}, "encoding": {
             "color": {"field": "f", "type": "nominal", "scale": {"domain": ["55 mT", "110 mT", "220 mT", "440 mT"], "range": ["#000000", "#ff0000", "#00ff00", "#0000ff"]}, "legend": null},
             "shape": {"field": "f", "type": "nominal", "scale": {"domain": ["440 mT", "220 mT", "110 mT", "55 mT"], "range": ["M0,-1L0.235,-0.324L0.951,-0.309L0.38,0.124L0.588,0.809L0,0.4L-0.588,0.809L-0.38,0.124L-0.951,-0.309L-0.235,-0.324Z", "triangle-up", "circle", "square"]}, "legend": null}}}
         ]},
        {"width": 519, "height": 258.3, "view": {"stroke": null}, "data": {"name": "bars"}, "transform": [{"filter": "datum.p=='a'&&datum.T=='T40'"}],
         "layer": [
           {"mark": {"type": "bar", "stroke": "black", "strokeWidth": 1.9},
            "encoding": {
              "y": {"field": "f", "type": "nominal", "sort": ["440 mT", "220 mT", "110 mT", "55 mT"], "scale": {"paddingInner": 0, "paddingOuter": 0.5}, "axis": {"orient": "left", "labels": false, "ticks": false, "title": null}},
              "x": {"field": "v", "type": "quantitative", "scale": {"domain": [0, 400], "reverse": true, "nice": false, "zero": false}, "axis": {"orient": "top", "labels": false, "ticks": false, "title": null, "domainDash": [13.4, 8.6], "domainWidth": 1.9}},
              "fill": {"field": "f", "type": "nominal", "scale": {"domain": ["55 mT", "110 mT", "220 mT", "440 mT"], "range": ["#000000", "#ff0000", "#00ff00", "#0000ff"]}, "legend": null}}},
           {"mark": {"type": "text", "align": "right", "baseline": "middle", "dx": -41, "fontSize": 53.5, "color": "black"},
            "encoding": {
              "y": {"field": "f", "type": "nominal", "sort": ["440 mT", "220 mT", "110 mT", "55 mT"], "axis": {"orient": "right", "labels": false, "ticks": false, "title": "T40", "titleAngle": 270, "titleX": 49.7, "titleY": 129.2, "titleAlign": "center", "titleBaseline": "middle"}},
              "x": {"field": "v", "type": "quantitative", "axis": null},
              "text": {"field": "v", "type": "quantitative", "format": ".3f"}}}
         ]},
        {"width": 522, "height": 258.3, "data": {"name": "lines"}, "transform": [{"filter": "datum.p=='a'&&datum.T=='T60'"}],
         "encoding": {
           "x": {"field": "t", "type": "quantitative", "scale": {"domain": [0, 32.5], "nice": false, "zero": false}, "axis": null},
           "y": {"field": "v", "type": "quantitative", "scale": {"domain": [-25, 400], "nice": false, "zero": false}, "axis": {"values": [0, 50, 100, 150, 200, 250, 300, 350], "labelExpr": "datum.value%100==0?datum.label:''", "tickSize": {"condition": {"test": "datum.value%100==0", "value": -17}, "value": -8.6}, "labelPadding": 38, "domain": false, "title": null}}},
         "layer": [
           {"mark": {"type": "line", "strokeWidth": 3.8}, "encoding": {"stroke": {"field": "f", "type": "nominal", "scale": {"domain": ["440 mT", "220 mT", "110 mT", "55 mT"], "range": ["#0000ff", "#00ff00", "#ff0000", "#000000"]}, "legend": null}}},
           {"mark": {"type": "point", "filled": true, "size": 766, "opacity": 1}, "encoding": {
             "color": {"field": "f", "type": "nominal", "scale": {"domain": ["55 mT", "110 mT", "220 mT", "440 mT"], "range": ["#000000", "#ff0000", "#00ff00", "#0000ff"]},
               "legend": {"orient": "none", "legendX": 17, "legendY": -2, "title": null, "columns": 2, "direction": "horizontal", "labelFontSize": 42, "labelOffset": 33.4, "columnPadding": 0, "rowPadding": 0, "padding": 0, "symbolSize": 4470, "symbolStrokeWidth": 0, "symbolOpacity": 1, "labelLimit": 500,
                 "symbolType": {"expr": "datum.value=='55 mT'?'M-1,-0.057H1.629V0.057H-1Z M-0.1,-0.414H0.728V0.414H-0.1Z':datum.value=='110 mT'?'M-1,-0.057H1.629V0.057H-1Z M-0.136,0A0.45,0.45 0 1,1 0.764,0A0.45,0.45 0 1,1 -0.136,0Z':datum.value=='220 mT'?'M-1,-0.057H1.629V0.057H-1Z M0.314,-0.45L0.78,0.36L-0.152,0.36Z':'M-1,-0.057H1.629V0.057H-1Z M0.314,-0.47L0.424,-0.152L0.761,-0.145L0.493,0.058L0.59,0.38L0.314,0.188L0.038,0.38L0.135,0.058L-0.133,-0.145L0.204,-0.152Z'"}}},
             "shape": {"field": "f", "type": "nominal", "scale": {"domain": ["440 mT", "220 mT", "110 mT", "55 mT"], "range": ["M0,-1L0.235,-0.324L0.951,-0.309L0.38,0.124L0.588,0.809L0,0.4L-0.588,0.809L-0.38,0.124L-0.951,-0.309L-0.235,-0.324Z", "triangle-up", "circle", "square"]}, "legend": null}}}
         ]},
        {"width": 519, "height": 258.3, "view": {"stroke": null}, "data": {"name": "bars"}, "transform": [{"filter": "datum.p=='a'&&datum.T=='T60'"}],
         "layer": [
           {"mark": {"type": "bar", "stroke": "black", "strokeWidth": 1.9},
            "encoding": {
              "y": {"field": "f", "type": "nominal", "sort": ["440 mT", "220 mT", "110 mT", "55 mT"], "scale": {"paddingInner": 0, "paddingOuter": 0.5}, "axis": {"orient": "left", "labels": false, "ticks": false, "title": null}},
              "x": {"field": "v", "type": "quantitative", "scale": {"domain": [0, 400], "reverse": true, "nice": false, "zero": false}, "axis": {"orient": "top", "labels": false, "ticks": false, "title": null, "domainDash": [13.4, 8.6], "domainWidth": 1.9}},
              "fill": {"field": "f", "type": "nominal", "scale": {"domain": ["55 mT", "110 mT", "220 mT", "440 mT"], "range": ["#000000", "#ff0000", "#00ff00", "#0000ff"]},
                "legend": {"orient": "none", "legendX": 0, "legendY": -3.3, "title": null, "direction": "vertical", "symbolType": "M-1,-0.892H1.185V0.892H-1Z", "symbolSize": 3853, "symbolStrokeColor": "black", "symbolStrokeWidth": 1.4, "symbolOpacity": 1, "labelFontSize": 39, "labelOffset": 17.2, "rowPadding": 0, "padding": 0}}}},
           {"mark": {"type": "text", "align": "right", "baseline": "middle", "dx": -41, "fontSize": 53.5, "color": "black"},
            "encoding": {
              "y": {"field": "f", "type": "nominal", "sort": ["440 mT", "220 mT", "110 mT", "55 mT"], "axis": {"orient": "right", "labels": false, "ticks": false, "title": "T60", "titleAngle": 270, "titleX": 49.7, "titleY": 129.2, "titleAlign": "center", "titleBaseline": "middle"}},
              "x": {"field": "v", "type": "quantitative", "axis": null},
              "text": {"field": "v", "type": "quantitative", "format": ".3f"}}}
         ]},
        {"width": 522, "height": 258.3, "data": {"name": "lines"}, "transform": [{"filter": "datum.p=='a'&&datum.T=='T80'"}],
         "encoding": {
           "x": {"field": "t", "type": "quantitative", "scale": {"domain": [0, 32.5], "nice": false, "zero": false}, "axis": {"values": [2.5, 5, 7.5, 10, 12.5, 15, 17.5, 20, 22.5, 25, 27.5, 30], "labelExpr": "datum.value%5==0?datum.label:''", "tickSize": {"condition": {"test": "datum.value%5==0", "value": -15.3}, "value": -7.6}, "labelPadding": 57, "labelBaseline": "middle", "domain": false, "title": "Shear time / s", "titleX": 188, "titleY": 133.7, "titleAlign": "center", "titleBaseline": "middle"}},
           "y": {"field": "v", "type": "quantitative", "scale": {"domain": [-25, 400], "nice": false, "zero": false}, "axis": {"values": [0, 50, 100, 150, 200, 250, 300, 350], "labelExpr": "datum.value%100==0?datum.label:''", "tickSize": {"condition": {"test": "datum.value%100==0", "value": -17}, "value": -8.6}, "labelPadding": 38, "domain": false, "title": null}}},
         "layer": [
           {"mark": {"type": "line", "strokeWidth": 3.8}, "encoding": {"stroke": {"field": "f", "type": "nominal", "scale": {"domain": ["440 mT", "220 mT", "110 mT", "55 mT"], "range": ["#0000ff", "#00ff00", "#ff0000", "#000000"]}, "legend": null}}},
           {"mark": {"type": "point", "filled": true, "size": 766, "opacity": 1}, "encoding": {
             "color": {"field": "f", "type": "nominal", "scale": {"domain": ["55 mT", "110 mT", "220 mT", "440 mT"], "range": ["#000000", "#ff0000", "#00ff00", "#0000ff"]}, "legend": null},
             "shape": {"field": "f", "type": "nominal", "scale": {"domain": ["440 mT", "220 mT", "110 mT", "55 mT"], "range": ["M0,-1L0.235,-0.324L0.951,-0.309L0.38,0.124L0.588,0.809L0,0.4L-0.588,0.809L-0.38,0.124L-0.951,-0.309L-0.235,-0.324Z", "triangle-up", "circle", "square"]}, "legend": null}}}
         ]},
        {"width": 519, "height": 258.3, "view": {"stroke": null}, "data": {"name": "bars"}, "transform": [{"filter": "datum.p=='a'&&datum.T=='T80'"}],
         "layer": [
           {"mark": {"type": "bar", "stroke": "black", "strokeWidth": 1.9},
            "encoding": {
              "y": {"field": "f", "type": "nominal", "sort": ["440 mT", "220 mT", "110 mT", "55 mT"], "scale": {"paddingInner": 0, "paddingOuter": 0.5}, "axis": {"orient": "left", "labels": false, "ticks": false, "title": null}},
              "x": {"field": "v", "type": "quantitative", "scale": {"domain": [0, 400], "reverse": true, "nice": false, "zero": false}, "axis": {"orient": "top", "labels": false, "ticks": false, "title": null, "domainDash": [13.4, 8.6], "domainWidth": 1.9}},
              "fill": {"field": "f", "type": "nominal", "scale": {"domain": ["55 mT", "110 mT", "220 mT", "440 mT"], "range": ["#000000", "#ff0000", "#00ff00", "#0000ff"]}, "legend": null}}},
           {"mark": {"type": "text", "align": "right", "baseline": "middle", "dx": -41, "fontSize": 53.5, "color": "black"},
            "encoding": {
              "y": {"field": "f", "type": "nominal", "sort": ["440 mT", "220 mT", "110 mT", "55 mT"], "axis": {"orient": "right", "labels": false, "ticks": false, "title": "T80", "titleAngle": 270, "titleX": 49.7, "titleY": 129.2, "titleAlign": "center", "titleBaseline": "middle"}},
              "x": {"field": "v", "type": "quantitative", "axis": {"orient": "bottom", "values": [0, 50, 100, 150, 200, 250, 300, 350], "labelExpr": "datum.value%100==0?datum.label:''", "tickSize": {"condition": {"test": "datum.value%100==0", "value": -15.3}, "value": -7.6}, "labelPadding": 57, "labelBaseline": "middle", "title": "Mean apparent viscosity / (Pa·s)", "titleX": 259.5, "titleY": 133.7, "titleAlign": "center", "titleBaseline": "middle"}},
              "text": {"field": "v", "type": "quantitative", "format": ".3f"}}}
         ]}
      ]
    },
    {
      "columns": 2, "spacing": 0, "bounds": "flush",
      "resolve": {"scale": {"color": "independent", "fill": "independent", "shape": "independent", "stroke": "independent"}, "legend": {"color": "independent", "fill": "independent", "shape": "independent", "stroke": "independent"}},
      "title": {"text": "(b)", "orient": "bottom", "anchor": "middle", "offset": 110, "fontSize": 57, "fontWeight": "bold"},
      "concat": [
        {"width": 516, "height": 258.3, "data": {"name": "lines"}, "transform": [{"filter": "datum.p=='b'&&datum.T=='T20'"}],
         "encoding": {
           "x": {"field": "t", "type": "quantitative", "scale": {"domain": [0, 32.5], "nice": false, "zero": false}, "axis": null},
           "y": {"field": "v", "type": "quantitative", "scale": {"domain": [-25, 400], "nice": false, "zero": false}, "axis": {"values": [0, 50, 100, 150, 200, 250, 300, 350], "labelExpr": "datum.value%100==0?datum.label:''", "tickSize": {"condition": {"test": "datum.value%100==0", "value": -17}, "value": -8.6}, "labelPadding": 38, "domain": false, "title": null}}},
         "layer": [
           {"mark": {"type": "line", "strokeWidth": 2.8}, "encoding": {"stroke": {"field": "f", "type": "nominal", "scale": {"domain": ["440 mT", "220 mT", "110 mT", "55 mT"], "range": ["#0000ff", "#00ff00", "#ff0000", "#000000"]}, "legend": null}}},
           {"mark": {"type": "point", "filled": true, "size": 347, "opacity": 1}, "encoding": {
             "color": {"field": "f", "type": "nominal", "scale": {"domain": ["55 mT", "110 mT", "220 mT", "440 mT"], "range": ["#000000", "#ff0000", "#00ff00", "#0000ff"]}, "legend": null},
             "shape": {"field": "f", "type": "nominal", "scale": {"domain": ["440 mT", "220 mT", "110 mT", "55 mT"], "range": ["M0,-1L0.235,-0.324L0.951,-0.309L0.38,0.124L0.588,0.809L0,0.4L-0.588,0.809L-0.38,0.124L-0.951,-0.309L-0.235,-0.324Z", "triangle-up", "circle", "square"]}, "legend": null}}}
         ]},
        {"width": 515, "height": 258.3, "view": {"stroke": null}, "data": {"name": "bars"}, "transform": [{"filter": "datum.p=='b'&&datum.T=='T20'"}],
         "layer": [
           {"mark": {"type": "bar", "stroke": "black", "strokeWidth": 1.9},
            "encoding": {
              "y": {"field": "f", "type": "nominal", "sort": ["440 mT", "220 mT", "110 mT", "55 mT"], "scale": {"paddingInner": 0, "paddingOuter": 0.5}, "axis": {"orient": "left", "labels": false, "ticks": false, "title": null}},
              "x": {"field": "v", "type": "quantitative", "scale": {"domain": [0, 400], "reverse": true, "nice": false, "zero": false}, "axis": {"orient": "top", "labels": false, "ticks": false, "title": null}},
              "fill": {"field": "f", "type": "nominal", "scale": {"domain": ["55 mT", "110 mT", "220 mT", "440 mT"], "range": ["#000000", "#ff0000", "#00ff00", "#0000ff"]}, "legend": null}}},
           {"mark": {"type": "text", "align": "right", "baseline": "middle", "dx": -41, "fontSize": 53.5, "color": "black"},
            "encoding": {
              "y": {"field": "f", "type": "nominal", "sort": ["440 mT", "220 mT", "110 mT", "55 mT"], "axis": {"orient": "right", "labels": false, "ticks": false, "title": "T20", "titleAngle": 270, "titleX": 51.6, "titleY": 129.2, "titleAlign": "center", "titleBaseline": "middle"}},
              "x": {"field": "v", "type": "quantitative", "axis": null},
              "text": {"field": "v", "type": "quantitative", "format": ".3f"}}}
         ]},
        {"width": 516, "height": 258.3, "data": {"name": "lines"}, "transform": [{"filter": "datum.p=='b'&&datum.T=='T40'"}],
         "encoding": {
           "x": {"field": "t", "type": "quantitative", "scale": {"domain": [0, 32.5], "nice": false, "zero": false}, "axis": null},
           "y": {"field": "v", "type": "quantitative", "scale": {"domain": [-25, 400], "nice": false, "zero": false}, "axis": {"values": [0, 50, 100, 150, 200, 250, 300, 350], "labelExpr": "datum.value%100==0?datum.label:''", "tickSize": {"condition": {"test": "datum.value%100==0", "value": -17}, "value": -8.6}, "labelPadding": 38, "domain": false, "title": "Apparent viscosity / (Pa·s)", "titleX": -151.8, "titleY": 258.3, "titleAngle": 270, "titleAlign": "center", "titleBaseline": "middle"}}},
         "layer": [
           {"mark": {"type": "line", "strokeWidth": 2.8}, "encoding": {"stroke": {"field": "f", "type": "nominal", "scale": {"domain": ["440 mT", "220 mT", "110 mT", "55 mT"], "range": ["#0000ff", "#00ff00", "#ff0000", "#000000"]}, "legend": null}}},
           {"mark": {"type": "point", "filled": true, "size": 347, "opacity": 1}, "encoding": {
             "color": {"field": "f", "type": "nominal", "scale": {"domain": ["55 mT", "110 mT", "220 mT", "440 mT"], "range": ["#000000", "#ff0000", "#00ff00", "#0000ff"]}, "legend": null},
             "shape": {"field": "f", "type": "nominal", "scale": {"domain": ["440 mT", "220 mT", "110 mT", "55 mT"], "range": ["M0,-1L0.235,-0.324L0.951,-0.309L0.38,0.124L0.588,0.809L0,0.4L-0.588,0.809L-0.38,0.124L-0.951,-0.309L-0.235,-0.324Z", "triangle-up", "circle", "square"]}, "legend": null}}}
         ]},
        {"width": 515, "height": 258.3, "view": {"stroke": null}, "data": {"name": "bars"}, "transform": [{"filter": "datum.p=='b'&&datum.T=='T40'"}],
         "layer": [
           {"mark": {"type": "bar", "stroke": "black", "strokeWidth": 1.9},
            "encoding": {
              "y": {"field": "f", "type": "nominal", "sort": ["440 mT", "220 mT", "110 mT", "55 mT"], "scale": {"paddingInner": 0, "paddingOuter": 0.5}, "axis": {"orient": "left", "labels": false, "ticks": false, "title": null}},
              "x": {"field": "v", "type": "quantitative", "scale": {"domain": [0, 400], "reverse": true, "nice": false, "zero": false}, "axis": {"orient": "top", "labels": false, "ticks": false, "title": null, "domainDash": [13.4, 8.6], "domainWidth": 1.9}},
              "fill": {"field": "f", "type": "nominal", "scale": {"domain": ["55 mT", "110 mT", "220 mT", "440 mT"], "range": ["#000000", "#ff0000", "#00ff00", "#0000ff"]}, "legend": null}}},
           {"mark": {"type": "text", "align": "right", "baseline": "middle", "dx": -41, "fontSize": 53.5, "color": "black"},
            "encoding": {
              "y": {"field": "f", "type": "nominal", "sort": ["440 mT", "220 mT", "110 mT", "55 mT"], "axis": {"orient": "right", "labels": false, "ticks": false, "title": "T40", "titleAngle": 270, "titleX": 51.6, "titleY": 129.2, "titleAlign": "center", "titleBaseline": "middle"}},
              "x": {"field": "v", "type": "quantitative", "axis": null},
              "text": {"field": "v", "type": "quantitative", "format": ".3f"}}}
         ]},
        {"width": 516, "height": 258.3, "data": {"name": "lines"}, "transform": [{"filter": "datum.p=='b'&&datum.T=='T60'"}],
         "encoding": {
           "x": {"field": "t", "type": "quantitative", "scale": {"domain": [0, 32.5], "nice": false, "zero": false}, "axis": null},
           "y": {"field": "v", "type": "quantitative", "scale": {"domain": [-25, 400], "nice": false, "zero": false}, "axis": {"values": [0, 50, 100, 150, 200, 250, 300, 350], "labelExpr": "datum.value%100==0?datum.label:''", "tickSize": {"condition": {"test": "datum.value%100==0", "value": -17}, "value": -8.6}, "labelPadding": 38, "domain": false, "title": null}}},
         "layer": [
           {"mark": {"type": "line", "strokeWidth": 2.8}, "encoding": {"stroke": {"field": "f", "type": "nominal", "scale": {"domain": ["440 mT", "220 mT", "110 mT", "55 mT"], "range": ["#0000ff", "#00ff00", "#ff0000", "#000000"]}, "legend": null}}},
           {"mark": {"type": "point", "filled": true, "size": 347, "opacity": 1}, "encoding": {
             "color": {"field": "f", "type": "nominal", "scale": {"domain": ["55 mT", "110 mT", "220 mT", "440 mT"], "range": ["#000000", "#ff0000", "#00ff00", "#0000ff"]},
               "legend": {"orient": "none", "legendX": 19, "legendY": -2, "title": null, "columns": 2, "direction": "horizontal", "labelFontSize": 42, "labelOffset": 30.6, "columnPadding": 0, "rowPadding": 0, "padding": 0, "symbolSize": 4470, "symbolStrokeWidth": 0, "symbolOpacity": 1, "labelLimit": 500,
                 "symbolType": {"expr": "datum.value=='55 mT'?'M-1,-0.043H1.629V0.043H-1Z M0.034,-0.28H0.594V0.28H0.034Z':datum.value=='110 mT'?'M-1,-0.043H1.629V0.043H-1Z M0.004,0A0.31,0.31 0 1,1 0.624,0A0.31,0.31 0 1,1 0.004,0Z':datum.value=='220 mT'?'M-1,-0.043H1.629V0.043H-1Z M0.314,-0.32L0.64,0.25L-0.012,0.25Z':'M-1,-0.043H1.629V0.043H-1Z M0.314,-0.34L0.394,-0.11L0.637,-0.105L0.443,0.042L0.514,0.275L0.314,0.136L0.114,0.275L0.185,0.042L-0.009,-0.105L0.234,-0.11Z'"}}},
             "shape": {"field": "f", "type": "nominal", "scale": {"domain": ["440 mT", "220 mT", "110 mT", "55 mT"], "range": ["M0,-1L0.235,-0.324L0.951,-0.309L0.38,0.124L0.588,0.809L0,0.4L-0.588,0.809L-0.38,0.124L-0.951,-0.309L-0.235,-0.324Z", "triangle-up", "circle", "square"]}, "legend": null}}}
         ]},
        {"width": 515, "height": 258.3, "view": {"stroke": null}, "data": {"name": "bars"}, "transform": [{"filter": "datum.p=='b'&&datum.T=='T60'"}],
         "layer": [
           {"mark": {"type": "bar", "stroke": "black", "strokeWidth": 1.9},
            "encoding": {
              "y": {"field": "f", "type": "nominal", "sort": ["440 mT", "220 mT", "110 mT", "55 mT"], "scale": {"paddingInner": 0, "paddingOuter": 0.5}, "axis": {"orient": "left", "labels": false, "ticks": false, "title": null}},
              "x": {"field": "v", "type": "quantitative", "scale": {"domain": [0, 400], "reverse": true, "nice": false, "zero": false}, "axis": {"orient": "top", "labels": false, "ticks": false, "title": null, "domainDash": [13.4, 8.6], "domainWidth": 1.9}},
              "fill": {"field": "f", "type": "nominal", "scale": {"domain": ["55 mT", "110 mT", "220 mT", "440 mT"], "range": ["#000000", "#ff0000", "#00ff00", "#0000ff"]},
                "legend": {"orient": "none", "legendX": 0, "legendY": -3.3, "title": null, "direction": "vertical", "symbolType": "M-1,-0.892H1.185V0.892H-1Z", "symbolSize": 3853, "symbolStrokeColor": "black", "symbolStrokeWidth": 1.4, "symbolOpacity": 1, "labelFontSize": 39, "labelOffset": 13.4, "rowPadding": 0, "padding": 0}}}},
           {"mark": {"type": "text", "align": "right", "baseline": "middle", "dx": -41, "fontSize": 53.5, "color": "black"},
            "encoding": {
              "y": {"field": "f", "type": "nominal", "sort": ["440 mT", "220 mT", "110 mT", "55 mT"], "axis": {"orient": "right", "labels": false, "ticks": false, "title": "T60", "titleAngle": 270, "titleX": 51.6, "titleY": 129.2, "titleAlign": "center", "titleBaseline": "middle"}},
              "x": {"field": "v", "type": "quantitative", "axis": null},
              "text": {"field": "v", "type": "quantitative", "format": ".3f"}}}
         ]},
        {"width": 516, "height": 258.3, "data": {"name": "lines"}, "transform": [{"filter": "datum.p=='b'&&datum.T=='T80'"}],
         "encoding": {
           "x": {"field": "t", "type": "quantitative", "scale": {"domain": [0, 32.5], "nice": false, "zero": false}, "axis": {"values": [2.5, 5, 7.5, 10, 12.5, 15, 17.5, 20, 22.5, 25, 27.5, 30], "labelExpr": "datum.value%5==0?datum.label:''", "tickSize": {"condition": {"test": "datum.value%5==0", "value": -15.3}, "value": -7.6}, "labelPadding": 57, "labelBaseline": "middle", "domain": false, "title": "Shear time / s", "titleX": 183.4, "titleY": 133.7, "titleAlign": "center", "titleBaseline": "middle"}},
           "y": {"field": "v", "type": "quantitative", "scale": {"domain": [-25, 400], "nice": false, "zero": false}, "axis": {"values": [0, 50, 100, 150, 200, 250, 300, 350], "labelExpr": "datum.value%100==0?datum.label:''", "tickSize": {"condition": {"test": "datum.value%100==0", "value": -17}, "value": -8.6}, "labelPadding": 38, "domain": false, "title": null}}},
         "layer": [
           {"mark": {"type": "line", "strokeWidth": 2.8}, "encoding": {"stroke": {"field": "f", "type": "nominal", "scale": {"domain": ["440 mT", "220 mT", "110 mT", "55 mT"], "range": ["#0000ff", "#00ff00", "#ff0000", "#000000"]}, "legend": null}}},
           {"mark": {"type": "point", "filled": true, "size": 347, "opacity": 1}, "encoding": {
             "color": {"field": "f", "type": "nominal", "scale": {"domain": ["55 mT", "110 mT", "220 mT", "440 mT"], "range": ["#000000", "#ff0000", "#00ff00", "#0000ff"]}, "legend": null},
             "shape": {"field": "f", "type": "nominal", "scale": {"domain": ["440 mT", "220 mT", "110 mT", "55 mT"], "range": ["M0,-1L0.235,-0.324L0.951,-0.309L0.38,0.124L0.588,0.809L0,0.4L-0.588,0.809L-0.38,0.124L-0.951,-0.309L-0.235,-0.324Z", "triangle-up", "circle", "square"]}, "legend": null}}}
         ]},
        {"width": 515, "height": 258.3, "view": {"stroke": null}, "data": {"name": "bars"}, "transform": [{"filter": "datum.p=='b'&&datum.T=='T80'"}],
         "layer": [
           {"mark": {"type": "bar", "stroke": "black", "strokeWidth": 1.9},
            "encoding": {
              "y": {"field": "f", "type": "nominal", "sort": ["440 mT", "220 mT", "110 mT", "55 mT"], "scale": {"paddingInner": 0, "paddingOuter": 0.5}, "axis": {"orient": "left", "labels": false, "ticks": false, "title": null}},
              "x": {"field": "v", "type": "quantitative", "scale": {"domain": [0, 400], "reverse": true, "nice": false, "zero": false}, "axis": {"orient": "top", "labels": false, "ticks": false, "title": null, "domainDash": [13.4, 8.6], "domainWidth": 1.9}},
              "fill": {"field": "f", "type": "nominal", "scale": {"domain": ["55 mT", "110 mT", "220 mT", "440 mT"], "range": ["#000000", "#ff0000", "#00ff00", "#0000ff"]}, "legend": null}}},
           {"mark": {"type": "text", "align": "right", "baseline": "middle", "dx": -41, "fontSize": 53.5, "color": "black"},
            "encoding": {
              "y": {"field": "f", "type": "nominal", "sort": ["440 mT", "220 mT", "110 mT", "55 mT"], "axis": {"orient": "right", "labels": false, "ticks": false, "title": "T80", "titleAngle": 270, "titleX": 51.6, "titleY": 129.2, "titleAlign": "center", "titleBaseline": "middle"}},
              "x": {"field": "v", "type": "quantitative", "axis": {"orient": "bottom", "values": [0, 50, 100, 150, 200, 250, 300, 350], "labelExpr": "datum.value%100==0?datum.label:''", "tickSize": {"condition": {"test": "datum.value%100==0", "value": -15.3}, "value": -7.6}, "labelPadding": 57, "labelBaseline": "middle", "title": "Mean apparent viscosity / (Pa·s)", "titleX": 257.5, "titleY": 133.7, "titleAlign": "center", "titleBaseline": "middle"}},
              "text": {"field": "v", "type": "quantitative", "format": ".3f"}}}
         ]}
      ]
    },
    {
      "spacing": 0, "bounds": "flush",
      "resolve": {"scale": {"color": "independent", "fill": "independent", "shape": "independent", "stroke": "independent"}, "legend": {"color": "independent", "fill": "independent", "shape": "independent", "stroke": "independent"}},
      "vconcat": [
        {"width": 10, "height": 27.7, "view": {"stroke": null}, "data": {"name": "bars"}, "transform": [{"filter": "datum.p=='none'"}], "mark": {"type": "point", "opacity": 0}, "encoding": {}},
        {
          "columns": 2, "spacing": 0, "bounds": "flush",
          "resolve": {"scale": {"color": "independent", "fill": "independent", "shape": "independent", "stroke": "independent"}, "legend": {"color": "independent", "fill": "independent", "shape": "independent", "stroke": "independent"}},
          "title": {"text": "(c)", "orient": "bottom", "anchor": "middle", "offset": 110, "fontSize": 57, "fontWeight": "bold"},
          "concat": [
            {"width": 491, "height": 247.3, "data": {"name": "lines"}, "transform": [{"filter": "datum.p=='c'&&datum.T=='T20'"}],
             "encoding": {
               "x": {"field": "t", "type": "quantitative", "scale": {"domain": [0, 32.5], "nice": false, "zero": false}, "axis": null},
               "y": {"field": "v", "type": "quantitative", "scale": {"domain": [-25, 400], "nice": false, "zero": false}, "axis": {"values": [0, 50, 100, 150, 200, 250, 300, 350], "labelExpr": "datum.value%100==0?datum.label:''", "tickSize": {"condition": {"test": "datum.value%100==0", "value": -17}, "value": -8.6}, "labelPadding": 38, "domain": false, "title": null}}},
             "layer": [
               {"mark": {"type": "line", "strokeWidth": 2.8}, "encoding": {"stroke": {"field": "f", "type": "nominal", "scale": {"domain": ["440 mT", "220 mT", "110 mT", "55 mT"], "range": ["#0000ff", "#00ff00", "#ff0000", "#000000"]}, "legend": null}}},
               {"mark": {"type": "point", "filled": true, "size": 347, "opacity": 1}, "encoding": {
                 "color": {"field": "f", "type": "nominal", "scale": {"domain": ["55 mT", "110 mT", "220 mT", "440 mT"], "range": ["#000000", "#ff0000", "#00ff00", "#0000ff"]}, "legend": null},
                 "shape": {"field": "f", "type": "nominal", "scale": {"domain": ["440 mT", "220 mT", "110 mT", "55 mT"], "range": ["M0,-1L0.235,-0.324L0.951,-0.309L0.38,0.124L0.588,0.809L0,0.4L-0.588,0.809L-0.38,0.124L-0.951,-0.309L-0.235,-0.324Z", "triangle-up", "circle", "square"]}, "legend": null}}}
             ]},
            {"width": 494, "height": 247.3, "view": {"stroke": null}, "data": {"name": "bars"}, "transform": [{"filter": "datum.p=='c'&&datum.T=='T20'"}],
             "layer": [
               {"mark": {"type": "bar", "stroke": "black", "strokeWidth": 1.9},
                "encoding": {
                  "y": {"field": "f", "type": "nominal", "sort": ["440 mT", "220 mT", "110 mT", "55 mT"], "scale": {"paddingInner": 0, "paddingOuter": 0.5}, "axis": {"orient": "left", "labels": false, "ticks": false, "title": null}},
                  "x": {"field": "v", "type": "quantitative", "scale": {"domain": [0, 400], "reverse": true, "nice": false, "zero": false}, "axis": {"orient": "top", "labels": false, "ticks": false, "title": null}},
                  "fill": {"field": "f", "type": "nominal", "scale": {"domain": ["55 mT", "110 mT", "220 mT", "440 mT"], "range": ["#000000", "#ff0000", "#00ff00", "#0000ff"]}, "legend": null}}},
               {"mark": {"type": "text", "align": "right", "baseline": "middle", "dx": -41, "fontSize": 50.6, "color": "black"},
                "encoding": {
                  "y": {"field": "f", "type": "nominal", "sort": ["440 mT", "220 mT", "110 mT", "55 mT"], "axis": {"orient": "right", "labels": false, "ticks": false, "title": "T20", "titleAngle": 270, "titleX": 50, "titleY": 123.7, "titleAlign": "center", "titleBaseline": "middle", "titleFontSize": 51.6}},
                  "x": {"field": "v", "type": "quantitative", "axis": null},
                  "text": {"field": "v", "type": "quantitative", "format": ".3f"}}}
             ]},
            {"width": 491, "height": 247.3, "data": {"name": "lines"}, "transform": [{"filter": "datum.p=='c'&&datum.T=='T40'"}],
             "encoding": {
               "x": {"field": "t", "type": "quantitative", "scale": {"domain": [0, 32.5], "nice": false, "zero": false}, "axis": null},
               "y": {"field": "v", "type": "quantitative", "scale": {"domain": [-25, 400], "nice": false, "zero": false}, "axis": {"values": [0, 50, 100, 150, 200, 250, 300, 350], "labelExpr": "datum.value%100==0?datum.label:''", "tickSize": {"condition": {"test": "datum.value%100==0", "value": -17}, "value": -8.6}, "labelPadding": 38, "domain": false, "title": "Apparent viscosity / (Pa·s)", "titleX": -150, "titleY": 247.3, "titleAngle": 270, "titleAlign": "center", "titleBaseline": "middle", "titleFontSize": 51.6}}},
             "layer": [
               {"mark": {"type": "line", "strokeWidth": 2.8}, "encoding": {"stroke": {"field": "f", "type": "nominal", "scale": {"domain": ["440 mT", "220 mT", "110 mT", "55 mT"], "range": ["#0000ff", "#00ff00", "#ff0000", "#000000"]}, "legend": null}}},
               {"mark": {"type": "point", "filled": true, "size": 347, "opacity": 1}, "encoding": {
                 "color": {"field": "f", "type": "nominal", "scale": {"domain": ["55 mT", "110 mT", "220 mT", "440 mT"], "range": ["#000000", "#ff0000", "#00ff00", "#0000ff"]}, "legend": null},
                 "shape": {"field": "f", "type": "nominal", "scale": {"domain": ["440 mT", "220 mT", "110 mT", "55 mT"], "range": ["M0,-1L0.235,-0.324L0.951,-0.309L0.38,0.124L0.588,0.809L0,0.4L-0.588,0.809L-0.38,0.124L-0.951,-0.309L-0.235,-0.324Z", "triangle-up", "circle", "square"]}, "legend": null}}}
             ]},
            {"width": 494, "height": 247.3, "view": {"stroke": null}, "data": {"name": "bars"}, "transform": [{"filter": "datum.p=='c'&&datum.T=='T40'"}],
             "layer": [
               {"mark": {"type": "bar", "stroke": "black", "strokeWidth": 1.9},
                "encoding": {
                  "y": {"field": "f", "type": "nominal", "sort": ["440 mT", "220 mT", "110 mT", "55 mT"], "scale": {"paddingInner": 0, "paddingOuter": 0.5}, "axis": {"orient": "left", "labels": false, "ticks": false, "title": null}},
                  "x": {"field": "v", "type": "quantitative", "scale": {"domain": [0, 400], "reverse": true, "nice": false, "zero": false}, "axis": {"orient": "top", "labels": false, "ticks": false, "title": null, "domainDash": [13.4, 8.6], "domainWidth": 1.9}},
                  "fill": {"field": "f", "type": "nominal", "scale": {"domain": ["55 mT", "110 mT", "220 mT", "440 mT"], "range": ["#000000", "#ff0000", "#00ff00", "#0000ff"]}, "legend": null}}},
               {"mark": {"type": "text", "align": "right", "baseline": "middle", "dx": -41, "fontSize": 50.6, "color": "black"},
                "encoding": {
                  "y": {"field": "f", "type": "nominal", "sort": ["440 mT", "220 mT", "110 mT", "55 mT"], "axis": {"orient": "right", "labels": false, "ticks": false, "title": "T40", "titleAngle": 270, "titleX": 50, "titleY": 123.7, "titleAlign": "center", "titleBaseline": "middle", "titleFontSize": 51.6}},
                  "x": {"field": "v", "type": "quantitative", "axis": null},
                  "text": {"field": "v", "type": "quantitative", "format": ".3f"}}}
             ]},
            {"width": 491, "height": 247.3, "data": {"name": "lines"}, "transform": [{"filter": "datum.p=='c'&&datum.T=='T60'"}],
             "encoding": {
               "x": {"field": "t", "type": "quantitative", "scale": {"domain": [0, 32.5], "nice": false, "zero": false}, "axis": null},
               "y": {"field": "v", "type": "quantitative", "scale": {"domain": [-25, 400], "nice": false, "zero": false}, "axis": {"values": [0, 50, 100, 150, 200, 250, 300, 350], "labelExpr": "datum.value%100==0?datum.label:''", "tickSize": {"condition": {"test": "datum.value%100==0", "value": -17}, "value": -8.6}, "labelPadding": 38, "domain": false, "title": null}}},
             "layer": [
               {"mark": {"type": "line", "strokeWidth": 2.8}, "encoding": {"stroke": {"field": "f", "type": "nominal", "scale": {"domain": ["440 mT", "220 mT", "110 mT", "55 mT"], "range": ["#0000ff", "#00ff00", "#ff0000", "#000000"]}, "legend": null}}},
               {"mark": {"type": "point", "filled": true, "size": 347, "opacity": 1}, "encoding": {
                 "color": {"field": "f", "type": "nominal", "scale": {"domain": ["55 mT", "110 mT", "220 mT", "440 mT"], "range": ["#000000", "#ff0000", "#00ff00", "#0000ff"]},
                   "legend": {"orient": "none", "legendX": 15, "legendY": -3.8, "title": null, "columns": 2, "direction": "horizontal", "labelFontSize": 42, "labelOffset": 28.7, "columnPadding": 0, "rowPadding": 0, "padding": 0, "symbolSize": 4470, "symbolStrokeWidth": 0, "symbolOpacity": 1, "labelLimit": 500,
                     "symbolType": {"expr": "datum.value=='55 mT'?'M-1,-0.043H1.629V0.043H-1Z M0.034,-0.28H0.594V0.28H0.034Z':datum.value=='110 mT'?'M-1,-0.043H1.629V0.043H-1Z M0.004,0A0.31,0.31 0 1,1 0.624,0A0.31,0.31 0 1,1 0.004,0Z':datum.value=='220 mT'?'M-1,-0.043H1.629V0.043H-1Z M0.314,-0.32L0.64,0.25L-0.012,0.25Z':'M-1,-0.043H1.629V0.043H-1Z M0.314,-0.34L0.394,-0.11L0.637,-0.105L0.443,0.042L0.514,0.275L0.314,0.136L0.114,0.275L0.185,0.042L-0.009,-0.105L0.234,-0.11Z'"}}},
                 "shape": {"field": "f", "type": "nominal", "scale": {"domain": ["440 mT", "220 mT", "110 mT", "55 mT"], "range": ["M0,-1L0.235,-0.324L0.951,-0.309L0.38,0.124L0.588,0.809L0,0.4L-0.588,0.809L-0.38,0.124L-0.951,-0.309L-0.235,-0.324Z", "triangle-up", "circle", "square"]}, "legend": null}}}
             ]},
            {"width": 494, "height": 247.3, "view": {"stroke": null}, "data": {"name": "bars"}, "transform": [{"filter": "datum.p=='c'&&datum.T=='T60'"}],
             "layer": [
               {"mark": {"type": "bar", "stroke": "black", "strokeWidth": 1.9},
                "encoding": {
                  "y": {"field": "f", "type": "nominal", "sort": ["440 mT", "220 mT", "110 mT", "55 mT"], "scale": {"paddingInner": 0, "paddingOuter": 0.5}, "axis": {"orient": "left", "labels": false, "ticks": false, "title": null}},
                  "x": {"field": "v", "type": "quantitative", "scale": {"domain": [0, 400], "reverse": true, "nice": false, "zero": false}, "axis": {"orient": "top", "labels": false, "ticks": false, "title": null, "domainDash": [13.4, 8.6], "domainWidth": 1.9}},
                  "fill": {"field": "f", "type": "nominal", "scale": {"domain": ["55 mT", "110 mT", "220 mT", "440 mT"], "range": ["#000000", "#ff0000", "#00ff00", "#0000ff"]},
                    "legend": {"orient": "none", "legendX": 0, "legendY": -1.9, "title": null, "direction": "vertical", "symbolType": "M-1,-0.892H1.185V0.892H-1Z", "symbolSize": 3620, "symbolStrokeColor": "black", "symbolStrokeWidth": 1.4, "symbolOpacity": 1, "labelFontSize": 38, "labelOffset": 13.4, "rowPadding": 0, "padding": 0}}}},
               {"mark": {"type": "text", "align": "right", "baseline": "middle", "dx": -41, "fontSize": 50.6, "color": "black"},
                "encoding": {
                  "y": {"field": "f", "type": "nominal", "sort": ["440 mT", "220 mT", "110 mT", "55 mT"], "axis": {"orient": "right", "labels": false, "ticks": false, "title": "T60", "titleAngle": 270, "titleX": 50, "titleY": 123.7, "titleAlign": "center", "titleBaseline": "middle", "titleFontSize": 51.6}},
                  "x": {"field": "v", "type": "quantitative", "axis": null},
                  "text": {"field": "v", "type": "quantitative", "format": ".3f"}}}
             ]},
            {"width": 491, "height": 247.3, "data": {"name": "lines"}, "transform": [{"filter": "datum.p=='c'&&datum.T=='T80'"}],
             "encoding": {
               "x": {"field": "t", "type": "quantitative", "scale": {"domain": [0, 32.5], "nice": false, "zero": false}, "axis": {"values": [2.5, 5, 7.5, 10, 12.5, 15, 17.5, 20, 22.5, 25, 27.5, 30], "labelExpr": "datum.value%5==0?datum.label:''", "tickSize": {"condition": {"test": "datum.value%5==0", "value": -15.3}, "value": -7.6}, "labelPadding": 57, "labelBaseline": "middle", "domain": false, "title": "Shear time / s", "titleX": 174.8, "titleY": 130, "titleAlign": "center", "titleBaseline": "middle", "titleFontSize": 51.6}},
               "y": {"field": "v", "type": "quantitative", "scale": {"domain": [-25, 400], "nice": false, "zero": false}, "axis": {"values": [0, 50, 100, 150, 200, 250, 300, 350], "labelExpr": "datum.value%100==0?datum.label:''", "tickSize": {"condition": {"test": "datum.value%100==0", "value": -17}, "value": -8.6}, "labelPadding": 38, "domain": false, "title": null}}},
             "layer": [
               {"mark": {"type": "line", "strokeWidth": 2.8}, "encoding": {"stroke": {"field": "f", "type": "nominal", "scale": {"domain": ["440 mT", "220 mT", "110 mT", "55 mT"], "range": ["#0000ff", "#00ff00", "#ff0000", "#000000"]}, "legend": null}}},
               {"mark": {"type": "point", "filled": true, "size": 347, "opacity": 1}, "encoding": {
                 "color": {"field": "f", "type": "nominal", "scale": {"domain": ["55 mT", "110 mT", "220 mT", "440 mT"], "range": ["#000000", "#ff0000", "#00ff00", "#0000ff"]}, "legend": null},
                 "shape": {"field": "f", "type": "nominal", "scale": {"domain": ["440 mT", "220 mT", "110 mT", "55 mT"], "range": ["M0,-1L0.235,-0.324L0.951,-0.309L0.38,0.124L0.588,0.809L0,0.4L-0.588,0.809L-0.38,0.124L-0.951,-0.309L-0.235,-0.324Z", "triangle-up", "circle", "square"]}, "legend": null}}}
             ]},
            {"width": 494, "height": 247.3, "view": {"stroke": null}, "data": {"name": "bars"}, "transform": [{"filter": "datum.p=='c'&&datum.T=='T80'"}],
             "layer": [
               {"mark": {"type": "bar", "stroke": "black", "strokeWidth": 1.9},
                "encoding": {
                  "y": {"field": "f", "type": "nominal", "sort": ["440 mT", "220 mT", "110 mT", "55 mT"], "scale": {"paddingInner": 0, "paddingOuter": 0.5}, "axis": {"orient": "left", "labels": false, "ticks": false, "title": null}},
                  "x": {"field": "v", "type": "quantitative", "scale": {"domain": [0, 400], "reverse": true, "nice": false, "zero": false}, "axis": {"orient": "top", "labels": false, "ticks": false, "title": null, "domainDash": [13.4, 8.6], "domainWidth": 1.9}},
                  "fill": {"field": "f", "type": "nominal", "scale": {"domain": ["55 mT", "110 mT", "220 mT", "440 mT"], "range": ["#000000", "#ff0000", "#00ff00", "#0000ff"]}, "legend": null}}},
               {"mark": {"type": "text", "align": "right", "baseline": "middle", "dx": -41, "fontSize": 50.6, "color": "black"},
                "encoding": {
                  "y": {"field": "f", "type": "nominal", "sort": ["440 mT", "220 mT", "110 mT", "55 mT"], "axis": {"orient": "right", "labels": false, "ticks": false, "title": "T80", "titleAngle": 270, "titleX": 50, "titleY": 123.7, "titleAlign": "center", "titleBaseline": "middle", "titleFontSize": 51.6}},
                  "x": {"field": "v", "type": "quantitative", "axis": {"orient": "bottom", "values": [0, 50, 100, 150, 200, 250, 300, 350], "labelExpr": "datum.value%100==0?datum.label:''", "tickSize": {"condition": {"test": "datum.value%100==0", "value": -15.3}, "value": -7.6}, "labelPadding": 57, "labelBaseline": "middle", "title": "Mean apparent viscosity / (Pa·s)", "titleX": 247, "titleY": 130, "titleAlign": "center", "titleBaseline": "middle", "titleFontSize": 51.6}},
                  "text": {"field": "v", "type": "quantitative", "format": ".3f"}}}
             ]}
          ]
        }
      ]
    }
  ],
  "config": {
    "font": "Liberation Serif",
    "view": {"stroke": "black", "strokeWidth": 3.3},
    "axis": {"grid": false, "domainColor": "black", "domainWidth": 3.3, "tickColor": "black", "tickWidth": 2.9, "labelColor": "black", "labelFont": "Liberation Serif", "labelFontSize": 52.5, "titleColor": "black", "titleFont": "Liberation Serif", "titleFontSize": 54.4, "titleFontWeight": "normal", "labelOverlap": false, "labelFlush": false},
    "legend": {"labelColor": "black", "labelFont": "Liberation Serif"},
    "title": {"font": "Liberation Serif", "fontSize": 57, "color": "black"},
    "text": {"font": "Liberation Serif"}
  }
}
